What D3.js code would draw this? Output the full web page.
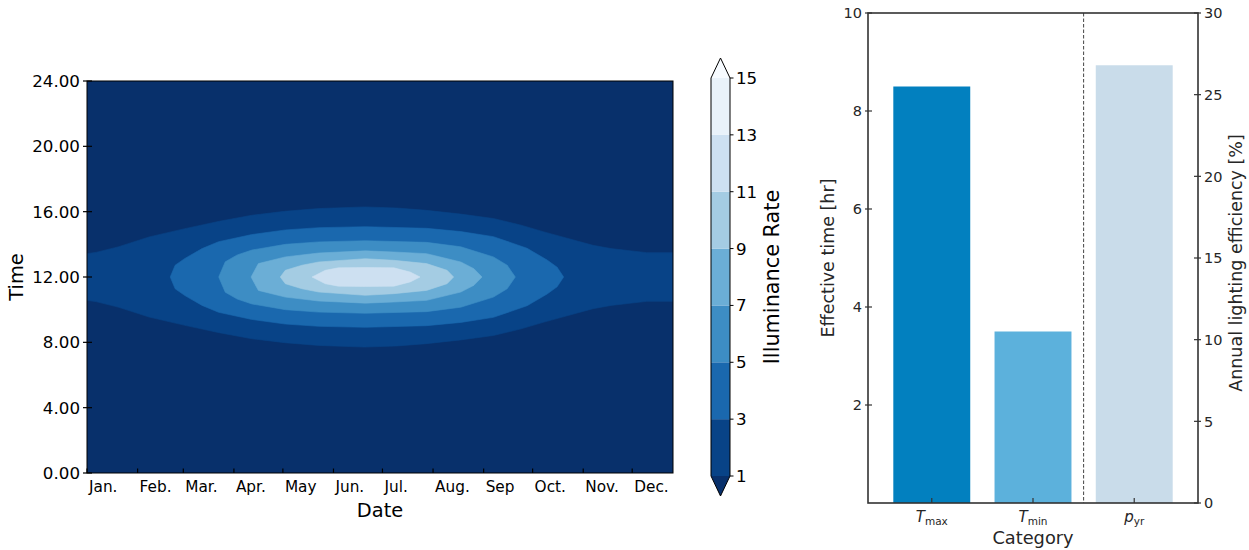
<!DOCTYPE html>
<html>
<head>
<meta charset="utf-8">
<script src="https://cdn.jsdelivr.net/npm/d3@7"></script>
<style>
  body { margin: 0; background: #fff; }
  text { font-family: "DejaVu Sans", sans-serif; }
</style>
</head>
<body>
<svg id="fig" width="1249" height="550"></svg>
<script>
// ---- data: left panel (illuminance contour) ----
const monthLabels = ["Jan.", "Feb.", "Mar.", "Apr.", "May", "Jun.", "Jul.", "Aug.", "Sep", "Oct.", "Nov.", "Dec."];
const monthStarts = [0, 31, 59, 90, 120, 151, 181, 212, 243, 273, 304, 334];
const timeTicks = [0, 4, 8, 12, 16, 20, 24];
const levels = [1, 3, 5, 7, 9, 11, 13, 15];

// contour boundaries: [day of year, half width in hours around 12:00]
const level1 = [[0, 1.43], [6, 1.52], [19, 1.84], [38, 2.45], [60, 2.96], [81, 3.41], [101, 3.78], [121, 4.02],
                [142, 4.19], [170, 4.29], [190, 4.22], [208, 4.08], [229, 3.85], [249, 3.58], [265, 3.2],
                [280, 2.76], [310, 1.94], [321, 1.74], [343, 1.49], [359, 1.49]];
const level3 = [[51, 0], [54, 0.72], [60, 1.14], [70.5, 1.74], [80.6, 2.16], [101, 2.6], [121.5, 2.88], [142, 3.02],
                [170.5, 3.08], [208, 2.98], [229, 2.78], [249, 2.47], [269.6, 1.76], [281.9, 1.04], [288, 0.6], [292, 0]];
const level5 = [[80.7, 0], [84.7, 0.93], [92, 1.35], [101, 1.65], [121.5, 2.0], [142, 2.15], [170.5, 2.22],
                [208, 2.12], [229, 1.85], [249, 1.23], [257.4, 0.72], [262.4, 0]];
const level7 = [[100.5, 0], [105, 0.82], [121.5, 1.23], [142, 1.47], [170.5, 1.6], [188, 1.53], [208, 1.43],
                [229, 0.92], [237, 0.51], [242, 0]];
const level9 = [[118.4, 0], [121.5, 0.41], [131.7, 0.72], [142, 0.92], [170.5, 1.12], [188, 1.02], [208, 0.82],
                [220.6, 0.41], [224.6, 0]];
const level11 = [[137.9, 0], [146, 0.41], [154, 0.56], [170.5, 0.58], [188, 0.56], [198, 0.3], [204, 0]];
const contourLevels = [[1, level1], [3, level3], [5, level5], [7, level7], [9, level9], [11, level11]];

// ---- data: right panel (bars) ----
const catMain = ["T", "T", "p"];
const catSub = ["max", "min", "yr"];
const effectiveTime = [8.5, 3.5];      // hr, left axis
const lightingEff = [26.8];            // %, right axis
const leftTicks = [2, 4, 6, 8, 10];
const rightTicks = [0, 5, 10, 15, 20, 25, 30];

// Blues_r sampled at layer midpoints (matplotlib contourf, extend both)
const underColor = "#08306b", overColor = "#f7fbff";
const bandColors = ["#084387", "#1a68ae", "#3d8dc4", "#6baed6", "#a4cce3", "#cde0f1", "#e9f2fa"];
const barColors = ["#0280bf", "#5cb1dc", "#c9dcea"];

const svg = d3.select("#fig");

// ================= left panel =================
const x = d3.scaleLinear().domain([0, 359]).range([87, 673]);
const y = d3.scaleLinear().domain([0, 24]).range([473, 81]);

const left = svg.append("g");
left.append("rect")
  .attr("x", x(0)).attr("y", y(24))
  .attr("width", x(359) - x(0)).attr("height", y(0) - y(24))
  .attr("fill", underColor);

const clip = svg.append("defs").append("clipPath").attr("id", "plotclip");
clip.append("rect").attr("x", x(0)).attr("y", y(24))
  .attr("width", x(359) - x(0)).attr("height", y(0) - y(24));

const bandLine = d3.line().x(d => x(d[0])).y(d => y(d[1])).curve(d3.curveLinear);
const bands = left.append("g").attr("clip-path", "url(#plotclip)");
contourLevels.forEach(([lev, pts]) => {
  const top = pts.map(p => [p[0], 12 + p[1]]);
  const bottom = pts.slice().reverse().map(p => [p[0], 12 - p[1]]);
  const ci = levels.indexOf(lev);
  bands.append("path")
    .attr("d", bandLine(top.concat(bottom)) + "Z")
    .attr("fill", bandColors[ci])
    .attr("stroke", bandColors[ci])
    .attr("stroke-width", 0.6);
});

left.append("rect")
  .attr("x", x(0)).attr("y", y(24))
  .attr("width", x(359) - x(0)).attr("height", y(0) - y(24))
  .attr("fill", "none").attr("stroke", "#000").attr("stroke-width", 1);

// y axis
const yAxis = left.append("g");
timeTicks.forEach(t => {
  yAxis.append("line")
    .attr("x1", x(0) - 4).attr("x2", x(0) + 5)
    .attr("y1", y(t)).attr("y2", y(t))
    .attr("stroke", "#000").attr("stroke-width", 1.2);
  yAxis.append("text")
    .attr("x", x(0) - 7).attr("y", y(t))
    .attr("dy", "0.36em").attr("text-anchor", "end")
    .attr("font-size", 16.7).attr("fill", "#000")
    .text(d3.format(".2f")(t));
});

// x axis
const xAxis = left.append("g");
monthStarts.forEach((d, i) => {
  xAxis.append("line")
    .attr("x1", x(d)).attr("x2", x(d))
    .attr("y1", y(0)).attr("y2", y(0) - 4.5)
    .attr("stroke", "#000").attr("stroke-width", 1.2);
  xAxis.append("text")
    .attr("x", x(d) + 2).attr("y", y(0) + 19)
    .attr("text-anchor", "start")
    .attr("font-size", 15.3).attr("fill", "#000")
    .text(monthLabels[i]);
});

left.append("text")
  .attr("x", (x(0) + x(359)) / 2).attr("y", 517)
  .attr("text-anchor", "middle").attr("font-size", 19.4)
  .text("Date");
left.append("text")
  .attr("transform", `translate(23,${y(12)}) rotate(-90)`)
  .attr("text-anchor", "middle").attr("font-size", 19.4)
  .text("Time");

// ---- colorbar ----
const cbY = d3.scaleLinear().domain([1, 15]).range([476, 78]);
const cbX0 = 711, cbX1 = 730, cbMid = (cbX0 + cbX1) / 2;
const cb = svg.append("g");
d3.pairs(levels).forEach(([a, b], i) => {
  cb.append("rect")
    .attr("x", cbX0).attr("y", cbY(b))
    .attr("width", cbX1 - cbX0).attr("height", cbY(a) - cbY(b))
    .attr("fill", bandColors[i]);
});
cb.append("path")
  .attr("d", `M${cbX0},${cbY(15)}L${cbMid},${cbY(15) - 20}L${cbX1},${cbY(15)}Z`)
  .attr("fill", overColor);
cb.append("path")
  .attr("d", `M${cbX0},${cbY(1)}L${cbMid},${cbY(1) + 20}L${cbX1},${cbY(1)}Z`)
  .attr("fill", underColor);
cb.append("path")
  .attr("d", `M${cbX0},${cbY(15)}L${cbMid},${cbY(15) - 20}L${cbX1},${cbY(15)}L${cbX1},${cbY(1)}L${cbMid},${cbY(1) + 20}L${cbX0},${cbY(1)}Z`)
  .attr("fill", "none").attr("stroke", "#000").attr("stroke-width", 1);
levels.forEach(l => {
  cb.append("line")
    .attr("x1", cbX1).attr("x2", cbX1 + 3.5)
    .attr("y1", cbY(l)).attr("y2", cbY(l))
    .attr("stroke", "#000").attr("stroke-width", 1);
  cb.append("text")
    .attr("x", cbX1 + 6).attr("y", cbY(l)).attr("dy", "0.36em")
    .attr("font-size", 16.7).text(l);
});
cb.append("text")
  .attr("transform", `translate(779,${(cbY(1) + cbY(15)) / 2}) rotate(-90)`)
  .attr("text-anchor", "middle").attr("font-size", 20.8)
  .text("Illuminance Rate");

// ================= right panel =================
const ink = "#262626";
const bx = d3.scaleLinear().domain([-0.63, 2.63]).range([868, 1198]);
const byL = d3.scaleLinear().domain([0, 10]).range([503, 13]);
const byR = d3.scaleLinear().domain([0, 30]).range([503, 13]);
const barW = 0.76;

const right = svg.append("g");
effectiveTime.forEach((v, i) => {
  right.append("rect")
    .attr("x", bx(i - barW / 2)).attr("width", bx(barW) - bx(0))
    .attr("y", byL(v)).attr("height", byL(0) - byL(v))
    .attr("fill", barColors[i]);
});
lightingEff.forEach((v, j) => {
  const i = effectiveTime.length + j;
  right.append("rect")
    .attr("x", bx(i - barW / 2)).attr("width", bx(barW) - bx(0))
    .attr("y", byR(v)).attr("height", byR(0) - byR(v))
    .attr("fill", barColors[i]);
});

right.append("line")
  .attr("x1", bx(1.5)).attr("x2", bx(1.5))
  .attr("y1", byL(10)).attr("y2", byL(0))
  .attr("stroke", "#444").attr("stroke-width", 1)
  .attr("stroke-dasharray", "3.5,2");

right.append("rect")
  .attr("x", bx(-0.63)).attr("y", byL(10))
  .attr("width", bx(2.63) - bx(-0.63)).attr("height", byL(0) - byL(10))
  .attr("fill", "none").attr("stroke", "#333").attr("stroke-width", 1.6);

leftTicks.forEach(t => {
  right.append("line")
    .attr("x1", bx(-0.63) - 3).attr("x2", bx(-0.63) + 4)
    .attr("y1", byL(t)).attr("y2", byL(t))
    .attr("stroke", "#333").attr("stroke-width", 1.2);
  right.append("text")
    .attr("x", bx(-0.63) - 6).attr("y", byL(t)).attr("dy", "0.36em")
    .attr("text-anchor", "end").attr("font-size", 14.5).attr("fill", ink)
    .text(t);
});
rightTicks.forEach(t => {
  right.append("line")
    .attr("x1", bx(2.63) - 4).attr("x2", bx(2.63) + 3)
    .attr("y1", byR(t)).attr("y2", byR(t))
    .attr("stroke", "#333").attr("stroke-width", 1.2);
  right.append("text")
    .attr("x", bx(2.63) + 6).attr("y", byR(t)).attr("dy", "0.36em")
    .attr("text-anchor", "start").attr("font-size", 14.5).attr("fill", ink)
    .text(t);
});
catMain.forEach((m, i) => {
  right.append("line")
    .attr("x1", bx(i)).attr("x2", bx(i))
    .attr("y1", byL(0)).attr("y2", byL(0) - 5)
    .attr("stroke", "#333").attr("stroke-width", 1.2);
  const t = right.append("text")
    .attr("x", bx(i)).attr("y", 522)
    .attr("text-anchor", "middle").attr("font-size", 15).attr("fill", ink);
  t.append("tspan").attr("font-style", "italic").text(m);
  t.append("tspan").attr("font-size", 10.5).attr("dy", 3).text(catSub[i]);
});

right.append("text")
  .attr("x", (bx(-0.63) + bx(2.63)) / 2).attr("y", 544)
  .attr("text-anchor", "middle").attr("font-size", 17.8).attr("fill", ink)
  .text("Category");
right.append("text")
  .attr("transform", `translate(834,${(byL(0) + byL(10)) / 2}) rotate(-90)`)
  .attr("text-anchor", "middle").attr("font-size", 17.5).attr("fill", ink)
  .text("Effective time [hr]");
right.append("text")
  .attr("transform", `translate(1242,${(byL(0) + byL(10)) / 2 + 5}) rotate(-90)`)
  .attr("text-anchor", "middle").attr("font-size", 17.5).attr("fill", ink)
  .text("Annual lighting efficiency [%]");
</script>
</body>
</html>
